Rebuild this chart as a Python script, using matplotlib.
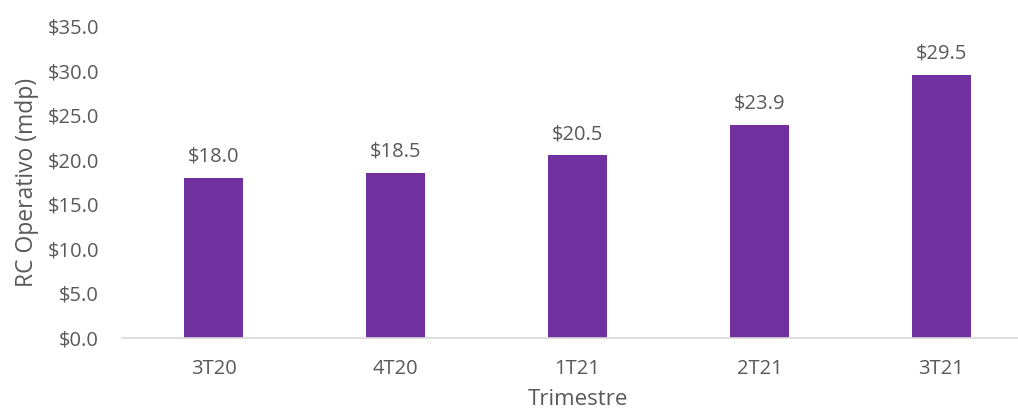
import matplotlib.pyplot as plt
import numpy as np

plt.rcParams['font.family'] = ['Open Sans', 'DejaVu Sans']

# data
trimestres = ["3T20", "4T20", "1T21", "2T21", "3T21"]
rc_operativo = [18.0, 18.5, 20.5, 23.9, 29.5]
etiquetas = ["$18.0", "$18.5", "$20.5", "$23.9", "$29.5"]
yticks = [0, 5, 10, 15, 20, 25, 30, 35]

txt = "#595959"
purple = "#7030A0"

fig = plt.figure(figsize=(10.18, 4.17), dpi=100)
ax = fig.add_axes([0.1203, 0.1894, 0.8939, 0.7482])

x = np.arange(len(trimestres))
bars = ax.bar(x, rc_operativo, width=0.324, color=purple, zorder=2)

for b, lab in zip(bars, etiquetas):
    ax.annotate(lab, (b.get_x() + b.get_width() / 2, b.get_height()),
                xytext=(0, 8), textcoords="offset points",
                ha="center", va="bottom", fontsize=14.5, color=txt)

ax.set_xlim(-0.5, len(trimestres) - 0.5)
ax.set_ylim(0, 35)
ax.set_xticks(x)
ax.set_xticklabels(trimestres)
ax.set_yticks(yticks)
ax.set_yticklabels(["${:.1f}".format(v) for v in yticks])
ax.tick_params(axis="both", length=0, labelsize=14.5, labelcolor=txt)
ax.tick_params(axis="x", pad=15)
ax.tick_params(axis="y", pad=17)

for s in ["top", "right", "left"]:
    ax.spines[s].set_visible(False)
ax.spines["bottom"].set_color("#D9D9D9")
ax.spines["bottom"].set_linewidth(1.2)

ax.set_ylabel("RC Operativo (mdp)", fontsize=16.5, color=txt, labelpad=6)
ax.set_xlabel("Trimestre", fontsize=16, color=txt, labelpad=7)

fig.savefig("out.png", dpi=100)
